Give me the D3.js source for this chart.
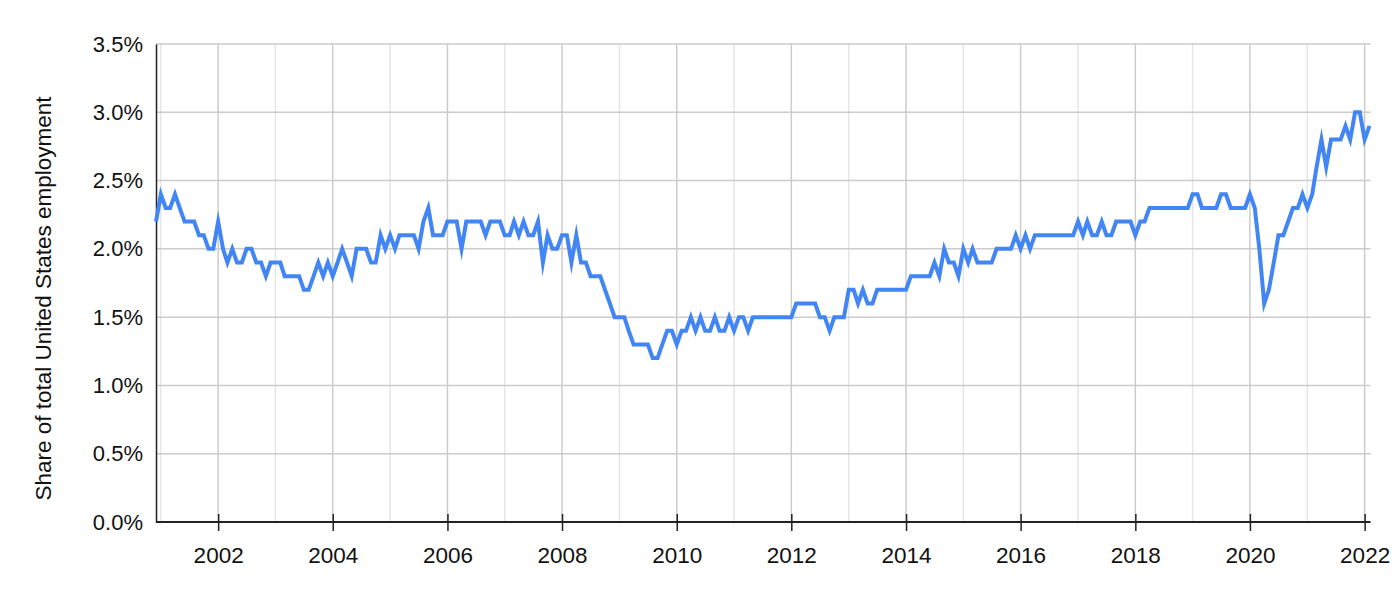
<!DOCTYPE html>
<html>
<head>
<meta charset="utf-8">
<script src="https://cdn.jsdelivr.net/npm/d3@7"></script>
<style>
  html, body { margin: 0; padding: 0; background: #ffffff; }
  svg { display: block; }
  text { font-family: "Liberation Sans", Arial, sans-serif; fill: #111; }
</style>
</head>
<body>
<svg id="chart" width="1400" height="600"></svg>
<script>
// ---- data (monthly, Dec 2000 .. Feb 2022), share of total US employment in % ----
const firstMonth = "2000-12";
const lastMonth = "2022-02";
const shareValues = [
  2.2,
  2.4,2.3,2.3,2.4,2.3,2.2,2.2,2.2,2.1,2.1,2.0,2.0,   // 2001
  2.2,2.0,1.9,2.0,1.9,1.9,2.0,2.0,1.9,1.9,1.8,1.9,   // 2002
  1.9,1.9,1.8,1.8,1.8,1.8,1.7,1.7,1.8,1.9,1.8,1.9,   // 2003
  1.8,1.9,2.0,1.9,1.8,2.0,2.0,2.0,1.9,1.9,2.1,2.0,   // 2004
  2.1,2.0,2.1,2.1,2.1,2.1,2.0,2.2,2.3,2.1,2.1,2.1,   // 2005
  2.2,2.2,2.2,2.0,2.2,2.2,2.2,2.2,2.1,2.2,2.2,2.2,   // 2006
  2.1,2.1,2.2,2.1,2.2,2.1,2.1,2.2,1.9,2.1,2.0,2.0,   // 2007
  2.1,2.1,1.9,2.1,1.9,1.9,1.8,1.8,1.8,1.7,1.6,1.5,   // 2008
  1.5,1.5,1.4,1.3,1.3,1.3,1.3,1.2,1.2,1.3,1.4,1.4,   // 2009
  1.3,1.4,1.4,1.5,1.4,1.5,1.4,1.4,1.5,1.4,1.4,1.5,   // 2010
  1.4,1.5,1.5,1.4,1.5,1.5,1.5,1.5,1.5,1.5,1.5,1.5,   // 2011
  1.5,1.6,1.6,1.6,1.6,1.6,1.5,1.5,1.4,1.5,1.5,1.5,   // 2012
  1.7,1.7,1.6,1.7,1.6,1.6,1.7,1.7,1.7,1.7,1.7,1.7,   // 2013
  1.7,1.8,1.8,1.8,1.8,1.8,1.9,1.8,2.0,1.9,1.9,1.8,   // 2014
  2.0,1.9,2.0,1.9,1.9,1.9,1.9,2.0,2.0,2.0,2.0,2.1,   // 2015
  2.0,2.1,2.0,2.1,2.1,2.1,2.1,2.1,2.1,2.1,2.1,2.1,   // 2016
  2.2,2.1,2.2,2.1,2.1,2.2,2.1,2.1,2.2,2.2,2.2,2.2,   // 2017
  2.1,2.2,2.2,2.3,2.3,2.3,2.3,2.3,2.3,2.3,2.3,2.3,   // 2018
  2.4,2.4,2.3,2.3,2.3,2.3,2.4,2.4,2.3,2.3,2.3,2.3,   // 2019
  2.4,2.3,2.0,1.6,1.7,1.9,2.1,2.1,2.2,2.3,2.3,2.4,   // 2020
  2.3,2.4,2.6,2.8,2.6,2.8,2.8,2.8,2.9,2.8,3.0,3.0,   // 2021
  2.8,2.9                                            // 2022
];
const yTicks = [0, 0.5, 1.0, 1.5, 2.0, 2.5, 3.0, 3.5];
const xLabelYears = [2002, 2004, 2006, 2008, 2010, 2012, 2014, 2016, 2018, 2020, 2022];
const gridYears = [2001,2002,2003,2004,2005,2006,2007,2008,2009,2010,2011,2012,2013,2014,2015,2016,2017,2018,2019,2020,2021,2022];
const yAxisTitle = "Share of total United States employment";

// ---- build ----
const parseMonth = d3.timeParse("%Y-%m");
const startDate = parseMonth(firstMonth);
const endDate = parseMonth(lastMonth);
const months = d3.timeMonth.range(startDate, d3.timeMonth.offset(endDate, 1));
const data = months.map((d, i) => ({ date: d, value: shareValues[i] })).filter(d => d.value != null);

const svg = d3.select("#chart");
const plotLeft = 156, plotRight = 1369.5, plotTop = 44, plotBottom = 522;

const x = d3.scaleTime().domain([startDate, endDate]).range([plotLeft, plotRight]);
const y = d3.scaleLinear().domain([0, 3.5]).range([plotBottom, plotTop]);

svg.append("rect").attr("width", 1400).attr("height", 600).attr("fill", "#fff");

// vertical grid
svg.append("g").selectAll("line").data(gridYears).join("line")
  .attr("x1", d => x(new Date(d, 0, 1))).attr("x2", d => x(new Date(d, 0, 1)))
  .attr("y1", plotTop).attr("y2", plotBottom)
  .attr("stroke", d => d % 2 === 0 ? "#cccccc" : "#e6e6e6")
  .attr("stroke-width", 1.5);

// horizontal grid
svg.append("g").selectAll("line").data(yTicks.filter(t => t > 0)).join("line")
  .attr("x1", plotLeft).attr("x2", plotRight + 1)
  .attr("y1", d => y(d)).attr("y2", d => y(d))
  .attr("stroke", "#cccccc").attr("stroke-width", 1.5);

// y axis
const yAxis = d3.axisLeft(y).tickValues(yTicks).tickSize(0).tickPadding(13)
  .tickFormat(d => d3.format(".1f")(d) + "%");
const gy = svg.append("g").attr("transform", `translate(${plotLeft},0)`).call(yAxis);
gy.select(".domain").attr("stroke", "#222").attr("stroke-width", 1.5);
gy.selectAll("text").attr("font-size", 22).attr("fill", "#111")
  .style("font-family", "'Liberation Sans', Arial, sans-serif");

// x axis
const xAxis = d3.axisBottom(x).tickValues(xLabelYears.map(yr => new Date(yr, 0, 1)))
  .tickSizeInner(9).tickSizeOuter(0).tickPadding(16).tickFormat(d3.timeFormat("%Y"));
const gx = svg.append("g").attr("transform", `translate(0,${plotBottom})`).call(xAxis);
gx.select(".domain").attr("stroke", "#222").attr("stroke-width", 2)
  .attr("d", `M${plotLeft},0H${plotRight + 1}`);
gx.selectAll(".tick line").attr("stroke", "#222").attr("stroke-width", 1.5).attr("y1", -8);
gx.selectAll("text").attr("font-size", 22.5).attr("fill", "#111")
  .style("font-family", "'Liberation Sans', Arial, sans-serif");

// line
const line = d3.line().x(d => x(d.date)).y(d => y(d.value));
svg.append("path").datum(data)
  .attr("d", line)
  .attr("fill", "none")
  .attr("stroke", "#4285F4")
  .attr("stroke-width", 4)
  .attr("stroke-linejoin", "miter")
  .attr("stroke-miterlimit", 10);

// y axis title
svg.append("text")
  .attr("transform", `translate(51,298.5) rotate(-90)`)
  .attr("text-anchor", "middle")
  .attr("font-size", 22.5)
  .attr("fill", "#111")
  .text(yAxisTitle);
</script>
</body>
</html>
